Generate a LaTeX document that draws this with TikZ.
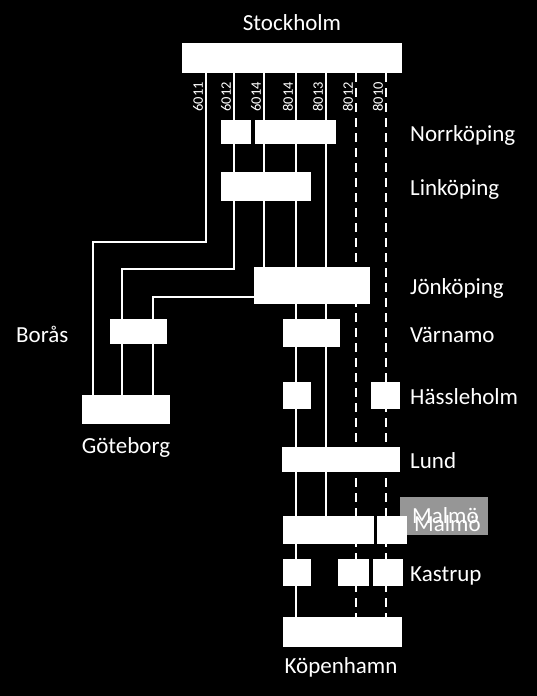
\documentclass[tikz,border=0pt]{standalone}
\usepackage{fontspec}
\setmainfont{Carlito}
\usetikzlibrary{positioning}
\pgfdeclarelayer{bg}
\pgfdeclarelayer{tracks}
\pgfsetlayers{bg,tracks,main}

\begin{document}
\begin{tikzpicture}[
  x=1pt, y=-1pt,
  stn/.style 2 args={fill=white, inner sep=0pt, minimum width=#1pt, minimum height=#2pt},
  city/.style={text=white, inner sep=0pt, font=\fontsize{23}{27}\selectfont},
  trainno/.style={text=white, inner sep=0pt, rotate=90, font=\fontsize{14.5}{17}\selectfont},
  track/.style={draw=white, line width=2.4pt},
  extra/.style={track, line width=2.6pt, dash pattern=on 9pt off 6pt},
]
  \useasboundingbox (0,0) rectangle (537,696);
  \begin{pgfonlayer}{bg}
    \fill[black] (0,0) rectangle (537,696);
  \end{pgfonlayer}

  % train numbers, one track each
  \foreach \no/\x in {6011/206,6012/234,6014/264,8014/296,8013/326,8012/356,8010/386}{
    \coordinate (t\no) at (\x,0);
    \node[trainno] (n\no) at (\x-8,97) {\no};
  }
  \coordinate (b6011) at (93,242);
  \coordinate (b6012) at (122,269);
  \coordinate (b6014) at (153,297);

  % stations
  \node[stn={220}{30}] (sto) at (292,58) {};
  \node[stn={30}{24}] (nor1) at (236,132) {};
  \node[stn={81}{24}] (nor2) at (295.5,132) {};
  \node[stn={90}{29}] (lin) at (266,186.5) {};
  \node[stn={116}{37}] (jon) at (312,285.5) {};
  \node[stn={57}{25}] (bor) at (138.5,331.5) {};
  \node[stn={57}{28}] (var) at (311.5,333) {};
  \node[stn={88}{29}] (got) at (126,409.5) {};
  \node[stn={28}{27}] (has1) at (297,395.5) {};
  \node[stn={29}{27}] (has2) at (385.5,395.5) {};
  \node[stn={118}{25}] (lun) at (341,459.5) {};
  \node[fill={rgb,255:red,150;green,150;blue,150}, inner sep=0pt,
        minimum width=88pt, minimum height=38pt] (malhl) at (444,516) {};
  \node[stn={91}{28}] (mal1) at (328.5,530) {};
  \node[stn={30}{28}] (mal2) at (392,530) {};
  \node[stn={28}{27}] (kas1) at (297,572.5) {};
  \node[stn={31}{27}] (kas2) at (353.5,572.5) {};
  \node[stn={30}{27}] (kas3) at (388,572.5) {};
  \node[stn={119}{30}] (kop) at (342.5,632) {};

  % names
  \node[city, anchor=base] (lsto) at (292,30) {Stockholm};
  \node[city, anchor=base west] (lnor) at (410,141) {Norrköping};
  \node[city, anchor=base west] (llin) at (410,195) {Linköping};
  \node[city, anchor=base west] (ljon) at (410,294) {Jönköping};
  \node[city, anchor=base west] (lbor) at (16,342) {Borås};
  \node[city, anchor=base west] (lvar) at (410,342) {Värnamo};
  \node[city, anchor=base west] (lhas) at (410,404) {Hässleholm};
  \node[city, anchor=base] (lgot) at (126,453) {Göteborg};
  \node[city, anchor=base west] (llun) at (410,468) {Lund};
  \node[city, anchor=base west] (lmal) at (412,523) {Malmö};
  \node[city, anchor=base west] (lmal2) at (414,531) {Malmö};
  \node[city, anchor=base west] (lkas) at (410,581) {Kastrup};
  \node[city, anchor=base] (lkop) at (341,673) {Köpenhamn};

  \begin{pgfonlayer}{tracks}
    \draw[track] (t6011 |- sto.south) -- (t6011 |- b6011) -- (b6011) -- (b6011 |- got.north);
    \draw[track] (t6012 |- sto.south) -- (t6012 |- b6012) -- (b6012) -- (b6012 |- got.north);
    \draw[track] (t6014 |- sto.south) -- (t6014 |- jon.north);
    \draw[track] (jon.west |- b6014) -- (b6014) -- (b6014 |- got.north);
    \draw[track] (t8014 |- sto.south) -- (t8014 |- kop.north);
    \draw[track] (t8013 |- sto.south) -- (t8013 |- mal1.north);
    \draw[extra] (t8012 |- sto.south) -- (t8012 |- kop.north);
    \draw[extra] (t8010 |- sto.south) -- (t8010 |- kop.north);
  \end{pgfonlayer}
\end{tikzpicture}
\end{document}
